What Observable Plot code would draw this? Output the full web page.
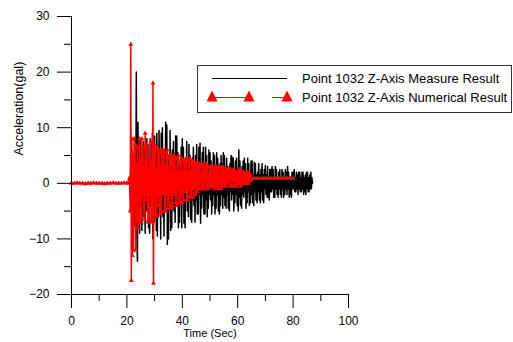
<!DOCTYPE html>
<html><head><meta charset="utf-8">
<script src="https://cdn.jsdelivr.net/npm/d3@7"></script>
<script src="https://cdn.jsdelivr.net/npm/@observablehq/plot@0.6"></script>
<style>
body{margin:0;background:#fff;font-family:"Liberation Sans",Arial,sans-serif;}
#wrap{position:relative;width:513px;height:342px;overflow:hidden;}
#legend{position:absolute;left:197px;top:65px;width:313px;height:46px;border:1px solid #333;background:#fff;}
#legend svg{display:block;}
</style></head>
<body><div id="wrap"></div>
<script>
// Sampling of the active part of the records
const T0 = 21, DT = 0.2;

// Quiet segment before the arrival
const blackQuietTime = [0, 20.8];
const blackQuietVal = [0, 0];
const redQuietTime = [0,1,2,3,4,5,6,7,8,9,10,11,12,13,14,15,16,17,18,19,20];
const redQuietVal  = [0,0,0.1,0,0,-0.1,0,0,0.1,0,0,0,-0.1,0,0,0.1,0,0,0,0.1,0];

// Measured (black) acceleration, t = 21.0 .. 87.0 s every 0.2 s
const measured = [
 0.5,-2.5,4,-5.5,6,
 -7,5,-8,3,-7.5,
 8,-4,20,-9,-14,
 11,-5,4,-9,8,
 -4,6.5,-8.5,3,-6,
 7.5,-3,6,-9,4,
 -5,8,-3.5,7,-8,
 4,-9,8,-4,7.5,
 -3,9,-10,5,-7,
 8.5,-5,3.5,-8.5,9,
 -9.5,4,-6,9.5,-4,
 5,-10,9,-3,10,
 -6,4.5,-9.5,6,-3,
 11,-5,10.5,-11,4,
 -10,5,-4,9.5,-8.5,
 3,-8,6,-4,7.5,
 -5,3,-7,8.5,-2.5,
 8.5,-4,5.5,-8,3,
 -7,4,-3.5,6.5,-8,
 8,-3,6.5,-7.2,2.5,
 -8,4,-2.5,7.5,-5,
 3.5,-6,7,-3,5,
 -6.5,2,-7,4.5,-3,
 6.5,-4,3,-7,5,
 -3,7,-5.5,2,-5.5,
 6.5,-2,7.2,-7.2,3,
 -4.5,5.5,-2,6.5,-5.5,
 3,-5.5,6.5,-3,5,
 -6,2.5,-4.5,6,-2,
 5.5,-3,4,-5.5,2,
 -4,5.5,-2,5,-5.5,
 2.5,-4.5,5.5,-2,4.5,
 -5,2,-5.5,3.5,-4,
 5,-2,3.5,-4.5,5.5,
 -2.5,5,-4,2,-4.5,
 4.5,-2,3,-4.5,2,
 -5,3.5,-1.5,5,-3,
 4.7,-2,4.5,-5,1.5,
 -3.5,4,-2,4.5,-4,
 2.5,-5,6,-2.5,4,
 -4,2,-4.5,3,-2,
 4,-2.5,4.5,-1.5,3.5,
 -4.5,2,-3.5,4.5,-1.5,
 3.5,-4,1.5,-3.5,4,
 -2,4,-3.5,1.5,-4,
 3.8,-1.5,3.5,-3,1.5,
 -3.5,2,-1.5,3.5,-3,
 1.5,-3.5,2.5,-1.5,3.5,
 -3,1.5,-3.5,2.5,-1,
 3.2,-2,1.5,-2.5,3,
 -2.5,1,-3,2.5,-1.5,
 2.5,-1.5,3,-1,2.5,
 -2.5,1,-2.5,3,-1,
 2.5,-2,1,-2.5,2,
 -1,2.5,-2,1,-2.5,
 2.5,-1,2,-2.5,1,
 -2,2.5,-1,2,-2,
 3,-1,2,-2.5,1,
 -2,1,-2.5,2,-1,
 2,-1,2.5,-1.5,1,
 -1.5,2,-1,1.5,-2,
 2,-1,2,-1.5,1,
 -1.5,2,-1,2,-2,
 1,-1.5,1.5,-2,2,
 -1,2,-1.5,1,-1.5,
 1.5,-1,2,-1,1,
 0
];

// Numerical (red) acceleration, t = 21.0 .. 65.0 s every 0.2 s
const numerical = [
 1,-5,25,-17.5,8,
 -13,5,-12,8,-4,
 7,-12,3,-7,6.5,
 -8,3.5,-7,8,-3,
 4,-7,8,-2.5,6.5,
 -6,3,-6.5,9,-2,
 7,-3,6.5,-7,2.5,
 -6.5,4,-2,7.5,-7,
 3,-6.5,18,-18,7,
 -3,6.5,-5.5,2,-6,
 6.5,-2.5,6,-4,5.5,
 -5.5,3,-5,6,-2,
 6,-2,5.5,-5,3,
 -5,5.5,-2,6,-4.5,
 2.5,-4.5,5,-1.5,5,
 -4.5,2,-4,4.5,-1.5,
 5,-2,4.5,-3.5,2,
 -4,4.5,-1,5,-3.5,
 2,-3.5,4,-2,4.5,
 -3.5,2,-3,4,-1,
 4,-1.5,4.5,-3,2,
 -3,4,-1,4.5,-2.5,
 2,-2.5,3.5,-1,4,
 -2.5,4,-0.5,3.5,-2,
 3.6,-1.5,1.5,-1,3,
 -1,3.5,0,3,-1,
 1.5,-1,3,-0.5,3.5,
 -1,3,0.5,3.5,-0.5,
 3,-1,1.5,-0.5,3,
 -0.5,3,0,3,-0.5,
 1.5,-0.5,2.5,-1,3,
 0,3,-0.5,2.5,-1,
 2.5,0,3,-0.5,1.5,
 -1,2.5,0,3,-0.5,
 2.5,0,2,-0.5,2.5,
 0,2.5,0.5,2,0,
 2,-0.5,2.5,0.5,2,
 -0.5,2,0.5,2.5,-0.5,
 2,0.5,2,-0.5,2,
 0,2,0.5,2.5,0,
 2,-0.5,2,0.5,2,
 0,2,0.5,1.8,0,
 1.8,0,2,0.5,1.8,
 0,1.8,0.5,1.5,0.5,
 0.9
];

// Flat tail of the numerical record
const redTailTime = [66,67,68,69,70,71,72,73,74,75,76,77,78,79,80];
const redTailVal  = [0.9,0.9,0.9,0.9,0.9,0.9,0.9,0.9,0.9,0.9,0.9,0.9,0.9,0.9,0.9];

// Axis ticks
const yMajor = [-20,-10,0,10,20,30];
const yMinor = [-15,-5,5,15,25];
const xMajor = [0,20,40,60,80,100];
const xMinor = [10,30,50,70,90];

const legendLabels = ["Point 1032 Z-Axis Measure Result", "Point 1032 Z-Axis Numerical Result"];

const black = [
  ...blackQuietTime.map((t,i)=>({t, v: blackQuietVal[i]})),
  ...measured.map((v,i)=>({t: +(T0 + i*DT).toFixed(2), v}))
];
const red = [
  ...redQuietTime.map((t,i)=>({t, v: redQuietVal[i]})),
  ...numerical.map((v,i)=>({t: +(T0 + i*DT).toFixed(2), v})),
  ...redTailTime.map((t,i)=>({t, v: redTailVal[i]}))
];

const font = "Liberation Sans, Arial, sans-serif";
const chart = Plot.plot({
  width: 513, height: 342,
  marginLeft: 71, marginRight: 165, marginTop: 16, marginBottom: 48,
  x: {domain: [0, 100]},
  y: {domain: [-20, 30]},
  style: {fontFamily: font, fontSize: "12px", color: "#000", background: "transparent", overflow: "visible"},
  marks: [
    Plot.line(black, {x: "t", y: "v", stroke: "#000", strokeWidth: 1.5}),
    Plot.line(red, {x: "t", y: "v", stroke: "#ff0000", strokeWidth: 1.5}),
    Plot.dot(red, {x: "t", y: "v", symbol: "triangle", r: 1.8, fill: "#ff0000", stroke: null}),
    Plot.ruleX([0], {y1: -20, y2: 30, stroke: "#000"}),
    Plot.ruleY([-20], {x1: 0, x2: 100, stroke: "#000"}),
    Plot.axisY(yMajor, {tickSize: 14, tickPadding: 8, label: null, strokeOpacity: 1}),
    Plot.axisY(yMinor, {tickSize: 7, tickFormat: () => "", label: null, strokeOpacity: 1}),
    Plot.axisX(xMajor, {tickSize: 14, tickPadding: 8, label: null, strokeOpacity: 1}),
    Plot.axisX(xMinor, {tickSize: 7, tickFormat: () => "", label: null, strokeOpacity: 1}),
    Plot.text(["Acceleration(gal)"], {frameAnchor: "left", dx: -53, rotate: -90, text: d => d, fontSize: 12.5, fill: "#000"}),
    Plot.text(["Time (Sec)"], {frameAnchor: "bottom", dy: 42, text: d => d, fontSize: 11, fill: "#000"})
  ]
});
const wrap = document.getElementById("wrap");
wrap.appendChild(chart);

// Legend overlay
const lg = document.createElement("div");
lg.id = "legend";
const ns = "http://www.w3.org/2000/svg";
const svg = document.createElementNS(ns, "svg");
svg.setAttribute("width", 313); svg.setAttribute("height", 46);
svg.innerHTML = `
  <line x1="14" x2="89" y1="12.5" y2="12.5" stroke="#000" stroke-width="1"/>
  <line x1="14" x2="51" y1="31.5" y2="31.5" stroke="#ff0000" stroke-width="1"/>
  <line x1="74" x2="89" y1="31.5" y2="31.5" stroke="#ff0000" stroke-width="1"/>
  <polygon points="14,24.5 19.5,35.5 8.5,35.5" fill="#ff0000"/>
  <polygon points="51,24.5 56.5,35.5 45.5,35.5" fill="#ff0000"/>
  <polygon points="89,24.5 94.5,35.5 83.5,35.5" fill="#ff0000"/>
  <text x="104" y="17" font-size="13" font-family="${font}" fill="#000">${legendLabels[0]}</text>
  <text x="104" y="36" font-size="13" font-family="${font}" fill="#000">${legendLabels[1]}</text>`;
lg.appendChild(svg);
wrap.appendChild(lg);
</script>
</body></html>
